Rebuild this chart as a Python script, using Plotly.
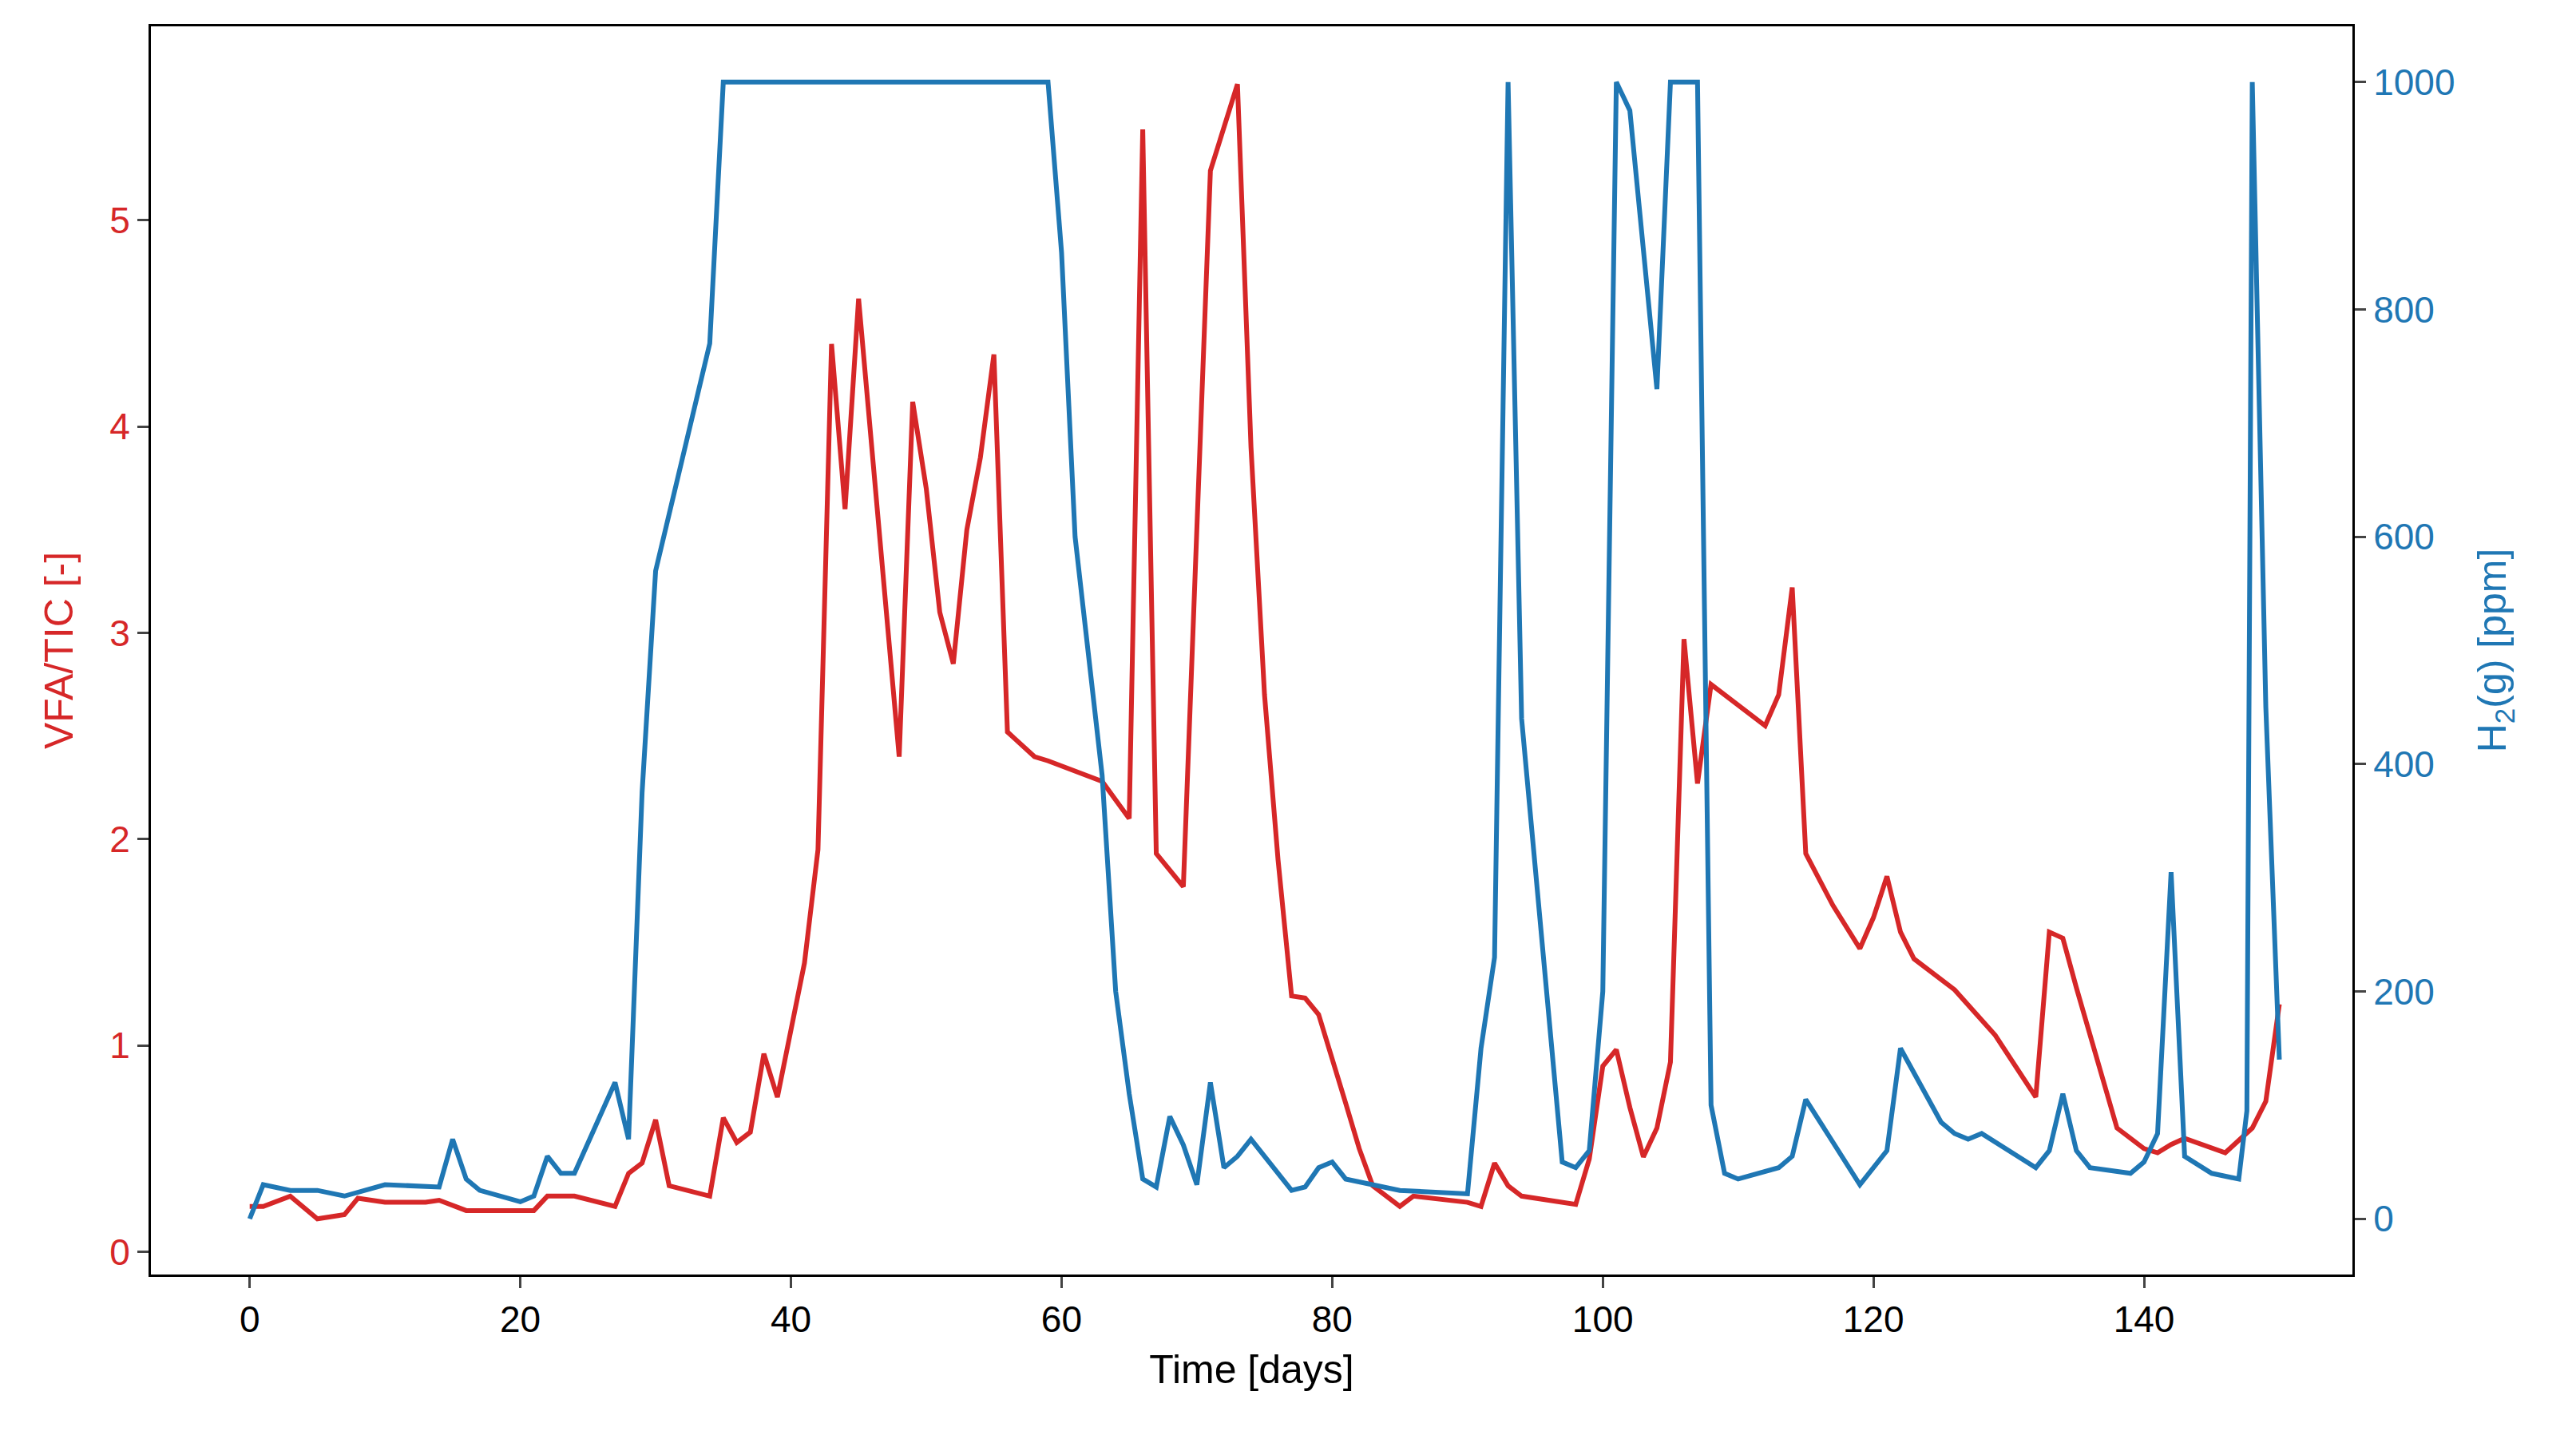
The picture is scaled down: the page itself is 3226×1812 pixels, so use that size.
import plotly.graph_objects as go

vfa_days = [0,1,3,5,7,8,10,13,14,16,20,21,22,24,27,28,29,30,31,34,35,36,37,38,39,41,42,43,44,45,48,49,50,51,52,53,54,55,56,58,59,63,65,66,67,69,71,73,74,75,76,77,78,79,81,82,83,85,86,90,91,92,93,94,98,99,100,101,102,103,104,105,106,107,108,112,113,114,115,117,119,120,121,122,123,126,129,132,133,134,135,138,140,141,142,143,146,148,149,150]
vfa_vals = [0.22,0.22,0.27,0.16,0.18,0.26,0.24,0.24,0.25,0.2,0.2,0.2,0.27,0.27,0.22,0.38,0.43,0.64,0.32,0.27,0.65,0.53,0.58,0.96,0.75,1.4,1.95,4.4,3.6,4.62,2.4,4.12,3.7,3.1,2.85,3.5,3.85,4.35,2.52,2.4,2.38,2.28,2.1,5.44,1.93,1.77,5.24,5.66,3.9,2.7,1.9,1.24,1.23,1.15,0.72,0.5,0.32,0.22,0.27,0.24,0.22,0.43,0.32,0.27,0.23,0.45,0.9,0.98,0.7,0.46,0.6,0.92,2.97,2.27,2.75,2.55,2.7,3.22,1.93,1.68,1.47,1.62,1.82,1.55,1.42,1.27,1.05,0.75,1.55,1.52,1.28,0.6,0.5,0.48,0.52,0.55,0.48,0.6,0.73,1.2]

h2_days = [0,1,3,5,7,10,14,15,16,17,20,21,22,23,24,27,28,29,30,34,35,59,60,61,63,64,65,66,67,68,69,70,71,72,73,74,77,78,79,80,81,83,85,90,91,92,93,94,97,98,99,100,101,102,104,105,107,108,109,110,113,114,115,119,121,122,125,126,127,128,132,133,134,135,136,139,140,141,142,143,145,147,147.6,148,149,150]
h2_vals = [0,30,25,25,20,30,28,70,35,25,15,20,55,40,40,120,70,375,570,770,1000,1000,850,600,390,200,110,35,28,90,65,30,120,45,55,70,25,28,45,50,35,30,25,22,150,230,1000,440,50,45,60,200,1000,975,730,1000,1000,100,40,35,45,55,105,30,60,150,85,75,70,75,45,60,110,60,45,40,50,75,305,55,40,35,95,1000,450,140]

red = "#d62728"
blue = "#1f77b4"
F = "Liberation Sans"

fig = go.Figure()
fig.add_trace(go.Scatter(x=vfa_days, y=vfa_vals, mode="lines", line=dict(color=red, width=6), yaxis="y"))
fig.add_trace(go.Scatter(x=h2_days, y=h2_vals, mode="lines", line=dict(color=blue, width=6), yaxis="y2"))

ax = dict(showgrid=False, zeroline=False, ticks="outside", ticklen=14, tickwidth=3, linecolor="black", linewidth=3, showline=True)
fig.update_layout(
    width=3226, height=1812, plot_bgcolor="white", paper_bgcolor="white", showlegend=False,
    margin=dict(l=181, r=3226-2938, t=25, b=1812-1588),
    font=dict(family=F, size=46, color="black"),
    xaxis=dict(**ax, range=[-7.3, 155.4], tickvals=[0,20,40,60,80,100,120,140], mirror=True,
               title=dict(text="Time [days]", font=dict(size=50), standoff=20)),
    yaxis=dict(**ax, range=[-0.11, 5.94], tickvals=[0,1,2,3,4,5], tickfont=dict(color=red),
               title=dict(text="VFA/TIC [-]", font=dict(size=50, color=red), standoff=30)),
    yaxis2=dict(**ax, range=[-49, 1049], tickvals=[0,200,400,600,800,1000], overlaying="y", side="right",
                tickfont=dict(color=blue),
                title=dict(text="H<sub>2</sub>(g) [ppm]", font=dict(size=50, color=blue), standoff=30)),
)
fig.write_html("out.html")
